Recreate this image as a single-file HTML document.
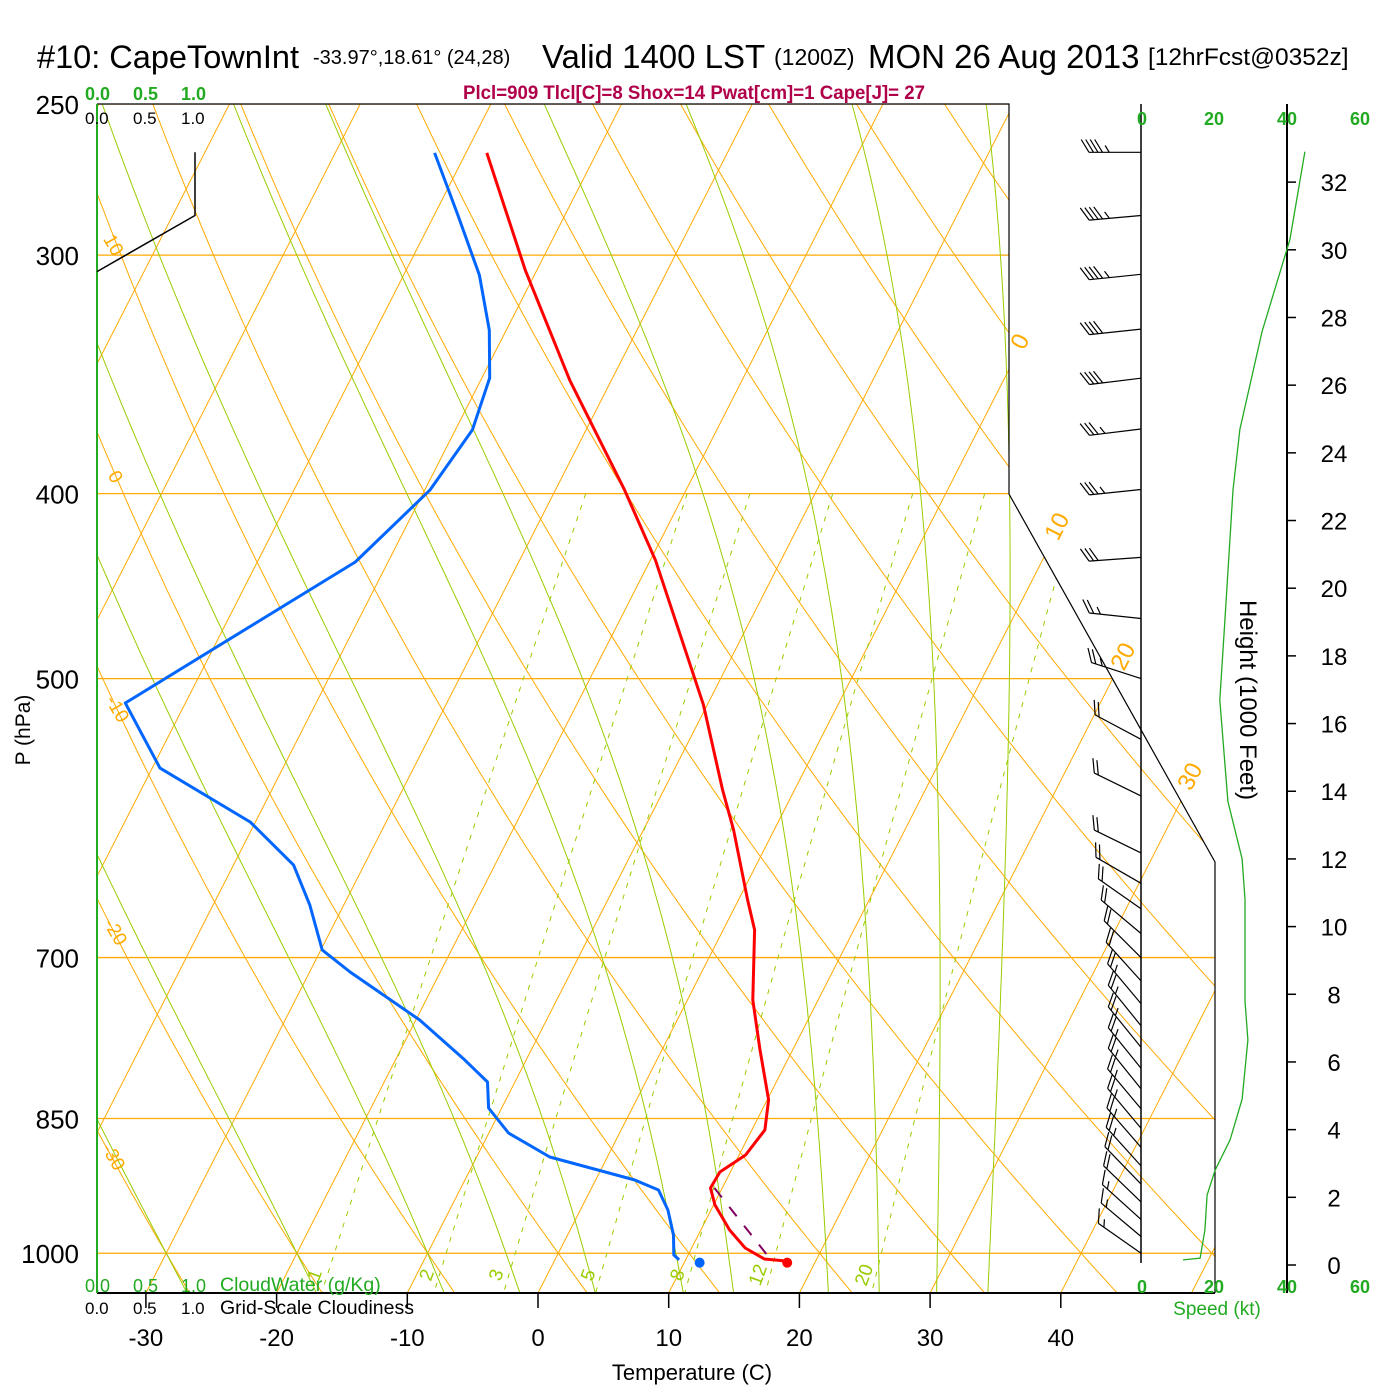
<!DOCTYPE html>
<html><head><meta charset="utf-8">
<style>
html,body{margin:0;padding:0;background:#fff;}
svg{display:block;font-family:"Liberation Sans",sans-serif;}
</style></head>
<body>
<svg id="chart" width="1400" height="1400" viewBox="0 0 1400 1400" xmlns="http://www.w3.org/2000/svg">
<defs><clipPath id="plotclip"><polygon points="97,104 1009,104 1009,494 1215,862 1215,1293 97,1293"/></clipPath></defs>
<rect width="1400" height="1400" fill="#fff"/>
<g id="grid" clip-path="url(#plotclip)"></g>
<g id="data" clip-path="url(#plotclip)"></g>
<g id="frame">
<polyline points="97,104 1009,104 1009,494 1215,862 1215,1293" fill="none" stroke="#000" stroke-width="1.2"/>
<line x1="97" y1="1293" x2="1215" y2="1293" stroke="#000" stroke-width="2"/>
<line x1="97" y1="104" x2="97" y2="1293" stroke="#22aa22" stroke-width="2"/>
<line x1="1141" y1="104" x2="1141" y2="1263" stroke="#000" stroke-width="1.5"/>
<line x1="1287" y1="104" x2="1287" y2="1293" stroke="#000" stroke-width="2"/>
</g>
<g id="texts">
<text x="37" y="68" font-size="32.5">#10: CapeTownInt</text>
<text x="313" y="64" font-size="20">-33.97°,18.61° (24,28)</text>
<text x="542" y="68" font-size="33">Valid 1400 LST</text>
<text x="774" y="65" font-size="23">(1200Z)</text>
<text x="868" y="68" font-size="33">MON 26 Aug 2013</text>
<text x="1148" y="65" font-size="24.5">[12hrFcst@0352z]</text>
<text x="694" y="99" font-size="19" font-weight="bold" fill="#b0004a" text-anchor="middle" textLength="462" lengthAdjust="spacingAndGlyphs">Plcl=909 Tlcl[C]=8 Shox=14 Pwat[cm]=1 Cape[J]= 27</text>
<g fill="#22aa22" font-size="18" font-weight="bold"><text x="85" y="100">0.0</text><text x="133" y="100">0.5</text><text x="181" y="100">1.0</text></g>
<g fill="#000" font-size="17"><text x="85" y="124">0.0</text><text x="133" y="124">0.5</text><text x="181" y="124">1.0</text></g>
<g fill="#22aa22" font-size="18"><text x="85" y="1292">0.0</text><text x="133" y="1292">0.5</text><text x="181" y="1292">1.0</text><text x="220" y="1291" font-size="19.5">CloudWater (g/Kg)</text></g>
<g fill="#000" font-size="17"><text x="85" y="1314">0.0</text><text x="133" y="1314">0.5</text><text x="181" y="1314">1.0</text><text x="220" y="1314" font-size="19.5">Grid-Scale Cloudiness</text></g>
<g fill="#22aa22" font-size="18" font-weight="bold" text-anchor="middle"><text x="1142" y="125">0</text><text x="1214" y="125">20</text><text x="1287" y="125">40</text><text x="1360" y="125">60</text></g>
<g fill="#22aa22" font-size="18" font-weight="bold" text-anchor="middle"><text x="1142" y="1293">0</text><text x="1214" y="1293">20</text><text x="1287" y="1293">40</text><text x="1360" y="1293">60</text></g>
<text x="1217" y="1315" fill="#22aa22" font-size="19" text-anchor="middle">Speed (kt)</text>
<text x="692" y="1380" font-size="22" text-anchor="middle">Temperature (C)</text>
<text transform="translate(30,730) rotate(-90)" font-size="21" text-anchor="middle">P (hPa)</text>
<text transform="translate(1240,700) rotate(90)" font-size="24" text-anchor="middle">Height (1000 Feet)</text>
</g>
<g id="ticks"></g>
</svg>
<script>
// ---- data arrays ----
const tempP = [265.2,305.4,348.8,398.3,433.5,516,571.9,600.2,653,677,736.8,782.5,831,861.8,888.3,906.7,924.3,943.4,972.4,993.7,1007,1009];
const tempT = [-48.4,-40.9,-33.2,-24.7,-19.6,-10.3,-5.5,-3.1,0.7,2.4,5.0,7.5,10.1,11.0,10.5,9.2,9.1,10.1,12.2,14.1,16.0,17.5];
const dewP = [265.2,285.8,307.3,328.4,347.9,370.4,398.3,434.4,514.9,557,594.4,626.1,657,693.6,712.3,754.8,792,813.4,839.3,865,890.4,915.5,926.6,949.2,978.2,1002,1008];
const dewT = [-52.4,-48.2,-44.2,-41.3,-39.4,-38.7,-39.6,-42.5,-54.6,-49.4,-40.4,-35.4,-32.6,-29.9,-26.9,-19.7,-14.7,-12.1,-11.0,-8.5,-4.4,3.0,5.2,6.7,8.1,8.9,9.5];
const surfTemp = 17.5, surfDew = 10.8, surfP = 1009;
const parcelP = [924.3,1004];
const parcelT = [9.4,16.2];
const presLevels = [250,300,400,500,700,850,1000];
const tempTicks = [-30,-20,-10,0,10,20,30,40];
const heightTicks = [0,2,4,6,8,10,12,14,16,18,20,22,24,26,28,30,32];
const speedH = [0.15,0.2,1.03,2.07,2.8,3.7,4.9,6.65,7.8,10.8,12.0,13.7,16.7,19.1,22.9,24.7,27.6,30.3,32.9];
const speedKt = [11.5,16.2,17.5,18.1,20.3,24.4,27.7,29.3,28.5,28.5,27.7,23.8,21.6,23.0,25.2,27.1,33.2,40.8,44.9];
const barbP = [265,286,307,328,348,370,398,432,465,500,538,576,617,640,660,680,700,720,740,760,780,800,820,840,860,880,900,920,940,960,980,1000];
const barbDir = [270,265,264,264,263,263,264,266,276,288,298,296,296,300,305,310,315,318,320,321,321,321,321,320,320,319,318,316,314,312,310,305];
const barbSpd = [45,45,45,40,40,35,35,30,25,25,20,20,20,20,20,20,22,22,25,25,27,27,28,28,28,27,25,22,20,18,17,15];
const cloudP = [265,286,306];
const cloudW = [1.0,1.0,0.0];
const isotherms = [-120,-110,-100,-90,-80,-70,-60,-50,-40,-30,-20,-10,0,10,20,30,40,50];
const dryAdiabats = [-40,-30,-20,-10,0,10,20,30,40,50,60,70,80,90,100,110,120,130,140,150,160];
const moistAdiabats = [-30,-20,-10,-4,2,9,13,20.5,24.5,29,33];
const mixRatios = [1,2,3,5,8,12,20];

// ---- axis functions ----
const Y0=104, K=829, PBOT=250*Math.exp((1293-104)/829);
function yP(p){return Y0+K*Math.log(p/250);}
function xT(T,y){return 538+13.07*T+0.51*(1293-y);}
function yH(h){return 1265-h*33.84;}
function xS(s){return 1141+s*3.65;}
function xC(w){return 97+98*w;}

const NS='http://www.w3.org/2000/svg';
function mk(tag,attrs,parent){const e=document.createElementNS(NS,tag);for(const k in attrs)e.setAttribute(k,attrs[k]);parent.appendChild(e);return e;}
const grid=document.getElementById('grid'), data=document.getElementById('data'), ticks=document.getElementById('ticks'), svg=document.getElementById('chart');
const OR='#ffaa00', GR='#99cc00';

presLevels.forEach(p=>{
  const y=yP(p);
  const l=mk('line',{x1:97,y1:y,x2:1215,y2:y,stroke:OR,'stroke-width':1.3},grid);
  
  
  const t=mk('text',{x:79,y:y+10,'font-size':26,'text-anchor':'end'},ticks);
  t.textContent=p;
  
  
});
isotherms.forEach(T=>{
  const l=mk('line',{x1:xT(T,1293),y1:1293,x2:xT(T,104),y2:104,stroke:OR,'stroke-width':1},grid);
  
  
});
function pathFrom(pts){return 'M'+pts.map(q=>q[0].toFixed(1)+','+q[1].toFixed(1)).join('L');}
dryAdiabats.forEach(th=>{
  const pts=[];
  for(let p=240;p<=PBOT+2;p+=10){const T=(th+273.15)*Math.pow(p/1000,0.2857)-273.15;const y=yP(p);pts.push([xT(T,y),y]);}
  const l=mk('path',{d:pathFrom(pts),fill:'none',stroke:OR,'stroke-width':1},grid);
  
  
});
function esat(T){return 6.112*Math.exp(17.67*T/(T+243.5));}
function dTdp(p,T){const Tk=T+273.15;const es=esat(T);const rs=0.622*es/(p-es);const Rd=287,cp=1004,L=2.5e6;
  return (1/p)*(Rd*Tk+L*rs)/(cp+L*L*rs*0.622/(Rd*Tk*Tk));}
moistAdiabats.forEach(tw=>{
  const up=[];let T=tw;
  for(let p=1000;p>=240;p-=5){const y=yP(p);up.push([xT(T,y),y]);T-=dTdp(p,T)*5;}
  const dn=[];T=tw;
  for(let p=1000;p<=PBOT+5;p+=5){const y=yP(p);dn.push([xT(T,y),y]);T+=dTdp(p,T)*5;}
  const pts=up.reverse().concat(dn.slice(1));
  const l=mk('path',{d:pathFrom(pts),fill:'none',stroke:GR,'stroke-width':1},grid);
  
  
});
function tdFromW(w,p){const e=w*p/(622+w);const a=Math.log(e/6.112);return 243.5*a/(17.67-a);}
mixRatios.forEach(w=>{
  const pts=[];
  for(let p=400;p<=PBOT+2;p+=10){const y=yP(p);pts.push([xT(tdFromW(w,p),y),y]);}
  const l=mk('path',{d:pathFrom(pts),fill:'none',stroke:GR,'stroke-width':1,'stroke-dasharray':'5,7'},grid);
  
  
  const p=1040,y=1277;const x=xT(tdFromW(w,p),y)-8;
  const t=mk('text',{transform:`translate(${x},${y}) rotate(-70)`,'font-size':19,fill:GR,'text-anchor':'middle'},ticks);
  t.textContent=w;
  
  
});
[[0,1027,345],[10,1064,530],[20,1130,660],[30,1197,780]].forEach(a=>{
  const t=mk('text',{transform:`translate(${a[1]},${a[2]}) rotate(-63)`,'font-size':24,fill:OR,'text-anchor':'middle'},ticks);
  t.textContent=a[0];
  
  
});
[[10,108,248],[0,110,480],[-10,112,712],[-20,110,935],[-30,108,1160]].forEach(a=>{
  const t=mk('text',{transform:`translate(${a[1]},${a[2]}) rotate(60)`,'font-size':19,fill:OR,'text-anchor':'middle'},ticks);
  t.textContent=a[0];
  
  
});
tempTicks.forEach(T=>{
  const x=538+13.07*T;
  const l=mk('line',{x1:x,y1:1293,x2:x,y2:1308,stroke:'#000','stroke-width':1.5},ticks);
  
  
  const t=mk('text',{x:x,y:1346,'font-size':24,'text-anchor':'middle'},ticks);
  t.textContent=T;
  
  
});
heightTicks.forEach(h=>{
  const y=yH(h);
  const l=mk('line',{x1:1287,y1:y,x2:1296,y2:y,stroke:'#000','stroke-width':1.5},ticks);
  
  
  const t=mk('text',{x:1334,y:y+9,'font-size':24,'text-anchor':'middle'},ticks);
  t.textContent=h;
  
  
});
function profile(P,T){return pathFrom(P.map((p,i)=>{const y=yP(p);return [xT(T[i],y),y];}));}
const tl=mk('path',{d:profile(tempP,tempT),fill:'none',stroke:'#ff0000','stroke-width':3,'stroke-linejoin':'round'},data);


const dl=mk('path',{d:profile(dewP,dewT),fill:'none',stroke:'#0066ff','stroke-width':3,'stroke-linejoin':'round'},data);


const pl=mk('path',{d:profile(parcelP,parcelT),fill:'none',stroke:'#800060','stroke-width':2,'stroke-dasharray':'12,12'},data);


const ys=yP(surfP)+2;
const sd1=mk('circle',{cx:xT(surfTemp,ys)+5,cy:ys,r:5,fill:'#ff0000'},data);


const sd2=mk('circle',{cx:xT(surfDew,ys)+5,cy:ys,r:5,fill:'#0066ff'},data);


const cw=mk('path',{d:pathFrom(cloudP.map((p,i)=>[xC(cloudW[i]),yP(p)])),fill:'none',stroke:'#000','stroke-width':1.5},svg);


const sc=mk('path',{d:pathFrom(speedH.map((h,i)=>[xS(speedKt[i]),yH(h)])),fill:'none',stroke:'#22aa22','stroke-width':1.3},svg);


const bg=mk('g',{},svg);


barbP.forEach((p,i)=>{
  const d=barbDir[i]*Math.PI/180, y=yP(p), L=52;
  const ux=Math.sin(d), uy=-Math.cos(d);
  const tx=1141+L*ux, ty=y+L*uy;
  const th=58.5*Math.PI/180;
  const fx=ux*Math.cos(th)-uy*Math.sin(th), fy=ux*Math.sin(th)+uy*Math.cos(th);
  let dpath=`M1141,${y.toFixed(1)}L${tx.toFixed(1)},${ty.toFixed(1)}`;
  let s=barbSpd[i], k=0;
  while(s>=10){const bx=tx-ux*4.5*k, by=ty-uy*4.5*k;dpath+=`M${bx.toFixed(1)},${by.toFixed(1)}l${(fx*15).toFixed(1)},${(fy*15).toFixed(1)}`;s-=10;k++;}
  if(s>=5){const bx=tx-ux*4.5*(k+0.5), by=ty-uy*4.5*(k+0.5);dpath+=`M${bx.toFixed(1)},${by.toFixed(1)}l${(fx*8).toFixed(1)},${(fy*8).toFixed(1)}`;}
  const b=mk('path',{d:dpath,fill:'none',stroke:'#000','stroke-width':1.2},bg);
  
  
});
</script>
</body></html>
